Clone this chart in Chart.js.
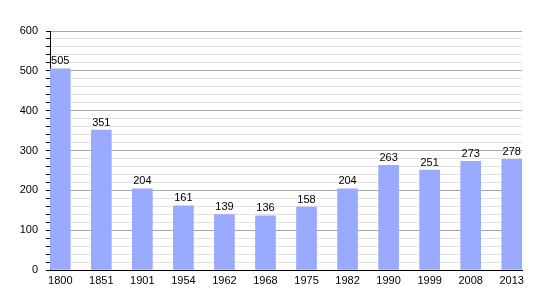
<!DOCTYPE html>
<html>
<head>
<meta charset="utf-8">
<script src="https://cdn.jsdelivr.net/npm/chart.js@4/dist/chart.umd.min.js"></script>
<style>
  html, body { margin: 0; padding: 0; background: #fff; }
  #wrap { width: 550px; height: 300px; }
</style>
</head>
<body>
<div id="wrap"><canvas id="chart" width="550" height="300"></canvas></div>
<script>
  const years  = ['1800', '1851', '1901', '1954', '1962', '1968', '1975', '1982', '1990', '1999', '2008', '2013'];
  const values = [505, 351, 204, 161, 139, 136, 158, 204, 263, 251, 273, 278];
  const yTicks = [0, 100, 200, 300, 400, 500, 600];

  const FONT = '"Liberation Sans", Arial, sans-serif';

  // value labels drawn above each bar
  const valueLabels = {
    id: 'valueLabels',
    afterDatasetsDraw(chart) {
      const ctx = chart.ctx;
      const meta = chart.getDatasetMeta(0);
      ctx.save();
      ctx.font = '11px ' + FONT;
      ctx.fillStyle = '#000';
      ctx.textAlign = 'center';
      ctx.textBaseline = 'bottom';
      meta.data.forEach((bar, i) => {
        ctx.fillText(String(values[i]), bar.x, bar.y - 2);
      });
      ctx.restore();
    }
  };

  new Chart(document.getElementById('chart'), {
    type: 'bar',
    data: {
      datasets: [{
        data: values.map((v, i) => ({ x: i, y: v })),
        backgroundColor: '#99aaff',
        borderWidth: 0,
        barThickness: 20,
      }]
    },
    options: {
      responsive: false,
      animation: false,
      layout: { padding: { top: 31, right: 28, left: 0, bottom: 0 } },
      plugins: { legend: { display: false }, tooltip: { enabled: false } },
      scales: {
        x: {
          type: 'linear',
          offset: false,
          min: -0.25, max: 11.25,
          afterBuildTicks: axis => { axis.ticks = years.map((_, i) => ({ value: i })); },
          afterFit: axis => { axis.height = 30; },
          grid: { display: false, drawTicks: false, offset: false },
          border: { display: true, color: '#000', width: 1 },
          ticks: {
            autoSkip: false, maxRotation: 0, padding: 4,
            color: '#000', font: { size: 11, family: FONT },
            callback: v => years[v] ?? '',
          },
        },
        y: {
          min: 0, max: 600,
          afterBuildTicks: axis => {
            const t = [];
            for (let v = 0; v <= 600; v += 20) t.push({ value: v });
            axis.ticks = t;
          },
          afterFit: axis => { axis.width = 50; },
          border: { display: true, color: '#000', width: 1 },
          grid: {
            color: c => (c.tick && yTicks.includes(c.tick.value)) ? '#a8a8a8' : '#e2e2e2',
            tickColor: '#000',
            tickLength: 4,
          },
          ticks: {
            autoSkip: false, padding: 8,
            color: '#000', font: { size: 11, family: FONT },
            callback: v => yTicks.includes(v) ? String(v) : '',
          },
        }
      }
    },
    plugins: [valueLabels]
  });
</script>
</body>
</html>
